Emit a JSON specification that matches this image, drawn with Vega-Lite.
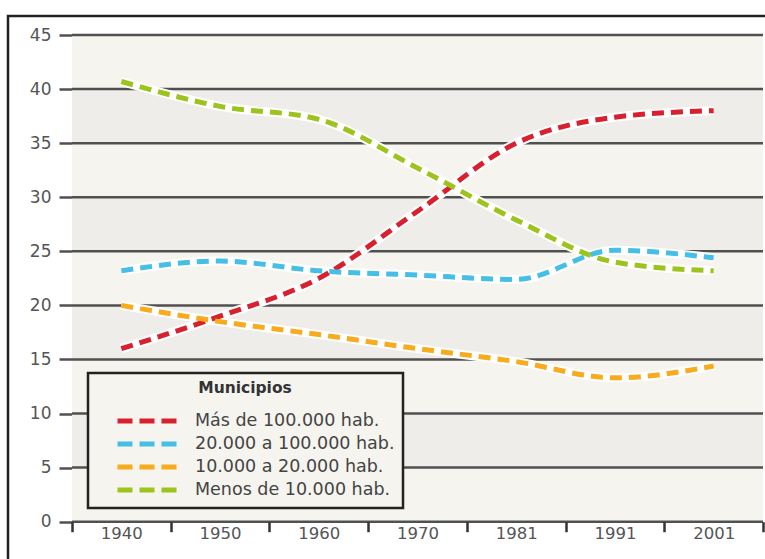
{
  "$schema": "https://vega.github.io/schema/vega-lite/v6.json",
  "width": 762,
  "height": 546,
  "padding": {"left": 8, "top": 16, "right": 0, "bottom": 0},
  "background": "white",
  "config": {
    "font": "DejaVu Sans",
    "view": {"stroke": "#222222", "strokeWidth": 2.5, "fill": "white"}
  },
  "datasets": {
    "series": [
      {"anio": "1940", "serie": "Más de 100.000 hab.", "valor": 16.0},
      {"anio": "1950", "serie": "Más de 100.000 hab.", "valor": 19.0},
      {"anio": "1960", "serie": "Más de 100.000 hab.", "valor": 22.5},
      {"anio": "1970", "serie": "Más de 100.000 hab.", "valor": 28.7},
      {"anio": "1981", "serie": "Más de 100.000 hab.", "valor": 35.0},
      {"anio": "1991", "serie": "Más de 100.000 hab.", "valor": 37.4},
      {"anio": "2001", "serie": "Más de 100.000 hab.", "valor": 38.0},
      {"anio": "1940", "serie": "20.000 a 100.000 hab.", "valor": 23.2},
      {"anio": "1950", "serie": "20.000 a 100.000 hab.", "valor": 24.1},
      {"anio": "1960", "serie": "20.000 a 100.000 hab.", "valor": 23.2},
      {"anio": "1970", "serie": "20.000 a 100.000 hab.", "valor": 22.8},
      {"anio": "1981", "serie": "20.000 a 100.000 hab.", "valor": 22.4},
      {"anio": "1991", "serie": "20.000 a 100.000 hab.", "valor": 25.1},
      {"anio": "2001", "serie": "20.000 a 100.000 hab.", "valor": 24.4},
      {"anio": "1940", "serie": "10.000 a 20.000 hab.", "valor": 20.0},
      {"anio": "1950", "serie": "10.000 a 20.000 hab.", "valor": 18.5},
      {"anio": "1960", "serie": "10.000 a 20.000 hab.", "valor": 17.3},
      {"anio": "1970", "serie": "10.000 a 20.000 hab.", "valor": 16.0},
      {"anio": "1981", "serie": "10.000 a 20.000 hab.", "valor": 14.8},
      {"anio": "1991", "serie": "10.000 a 20.000 hab.", "valor": 13.3},
      {"anio": "2001", "serie": "10.000 a 20.000 hab.", "valor": 14.4},
      {"anio": "1940", "serie": "Menos de 10.000 hab.", "valor": 40.7},
      {"anio": "1950", "serie": "Menos de 10.000 hab.", "valor": 38.4},
      {"anio": "1960", "serie": "Menos de 10.000 hab.", "valor": 37.2},
      {"anio": "1970", "serie": "Menos de 10.000 hab.", "valor": 32.7},
      {"anio": "1981", "serie": "Menos de 10.000 hab.", "valor": 27.9},
      {"anio": "1991", "serie": "Menos de 10.000 hab.", "valor": 24.0},
      {"anio": "2001", "serie": "Menos de 10.000 hab.", "valor": 23.2}
    ],
    "franjas": [
      {"desde": 0, "hasta": 5, "tono": "claro"},
      {"desde": 5, "hasta": 10, "tono": "oscuro"},
      {"desde": 10, "hasta": 15, "tono": "claro"},
      {"desde": 15, "hasta": 20, "tono": "oscuro"},
      {"desde": 20, "hasta": 25, "tono": "claro"},
      {"desde": 25, "hasta": 30, "tono": "oscuro"},
      {"desde": 30, "hasta": 35, "tono": "claro"},
      {"desde": 35, "hasta": 40, "tono": "oscuro"},
      {"desde": 40, "hasta": 45, "tono": "claro"}
    ],
    "reticula": [
      {"v": 0}, {"v": 5}, {"v": 10}, {"v": 15}, {"v": 20},
      {"v": 25}, {"v": 30}, {"v": 35}, {"v": 40}, {"v": 45}
    ]
  },
  "layer": [
    {
      "data": {"name": "franjas"},
      "mark": {"type": "rect", "strokeWidth": 0},
      "encoding": {
        "x": {"datum": "1940", "type": "ordinal", "bandPosition": 0},
        "x2": {"datum": "2001", "bandPosition": 1},
        "y": {"field": "desde", "type": "quantitative"},
        "y2": {"field": "hasta"},
        "fill": {
          "condition": {"test": "datum.tono === 'oscuro'", "value": "#eeede9"},
          "value": "#f5f4ee"
        }
      }
    },
    {
      "data": {"name": "reticula"},
      "mark": {"type": "rule", "color": "#505050", "strokeWidth": 2.5},
      "encoding": {
        "x": {"datum": "1940", "type": "ordinal", "bandPosition": 0},
        "x2": {"datum": "2001", "bandPosition": 1},
        "y": {"field": "v", "type": "quantitative"}
      }
    },
    {
      "data": {"name": "series"},
      "mark": {"type": "line", "interpolate": "monotone", "color": "white", "strokeWidth": 9},
      "encoding": {
        "x": {"field": "anio", "type": "ordinal", "bandPosition": 0.5},
        "y": {"field": "valor", "type": "quantitative"},
        "detail": {"field": "serie"}
      }
    },
    {
      "data": {"name": "series"},
      "mark": {"type": "line", "interpolate": "monotone", "strokeWidth": 5, "strokeDash": [12, 7], "strokeCap": "butt"},
      "encoding": {
        "x": {
          "field": "anio",
          "type": "ordinal",
          "bandPosition": 0.5,
          "scale": {
            "type": "band",
            "domain": ["1940", "1950", "1960", "1970", "1981", "1991", "2001"],
            "paddingInner": 0,
            "paddingOuter": 0.3596,
            "align": 0.9014
          },
          "axis": {
            "title": null,
            "labelAngle": 0,
            "labelAlign": "center",
            "bandPosition": 0.5,
            "domain": false,
            "grid": false,
            "tickBand": "extent",
            "ticks": true,
            "tickSize": 10,
            "tickWidth": 2.5,
            "tickColor": "#333333",
            "labelFont": "DejaVu Sans",
            "labelFontSize": 16.5,
            "labelColor": "#555555",
            "labelPadding": 2,
            "offset": -40.3
          }
        },
        "y": {
          "field": "valor",
          "type": "quantitative",
          "scale": {"domain": [-3.726, 46.757], "nice": false, "zero": false},
          "axis": {
            "title": null,
            "values": [0, 5, 10, 15, 20, 25, 30, 35, 40, 45],
            "domain": false,
            "grid": false,
            "tickSize": 13,
            "tickWidth": 2.5,
            "tickColor": "#505050",
            "labelFont": "DejaVu Sans",
            "labelFontSize": 17,
            "labelColor": "#555555",
            "labelPadding": 8,
            "offset": -64
          }
        },
        "color": {
          "field": "serie",
          "type": "nominal",
          "scale": {
            "domain": ["Más de 100.000 hab.", "20.000 a 100.000 hab.", "10.000 a 20.000 hab.", "Menos de 10.000 hab."],
            "range": ["#d9202f", "#45bfe6", "#f8ab1c", "#9dc31d"]
          },
          "legend": {
            "orient": "none",
            "legendX": 80,
            "legendY": 357,
            "title": "Municipios",
            "titleFont": "DejaVu Sans",
            "titleFontWeight": "bold",
            "titleFontSize": 15.5,
            "titleColor": "#333333",
            "titleAnchor": "middle",
            "titlePadding": 12,
            "labelFont": "DejaVu Sans",
            "labelFontSize": 17.5,
            "labelColor": "#444444",
            "labelOffset": 74,
            "labelLimit": 400,
            "symbolType": "M0.9,0H6.8",
            "symbolSize": 400,
            "symbolStrokeWidth": 5,
            "symbolDash": [15, 7],
            "rowPadding": 0,
            "padding": 8,
            "fillColor": "#f5f4ef",
            "strokeColor": "#222222",
            "encode": {
              "legend": {"update": {"strokeWidth": {"value": 2.5}}}
            }
          }
        }
      }
    }
  ]
}
